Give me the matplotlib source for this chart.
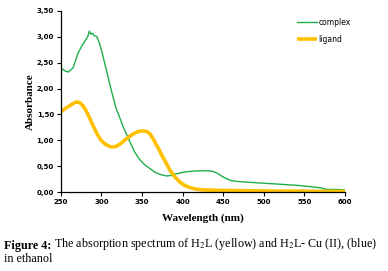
import matplotlib
matplotlib.use("Agg")
import matplotlib.pyplot as plt
from matplotlib.ticker import FixedLocator, FuncFormatter

# complex (green) spectrum
complex_nm = [250, 255, 259, 265, 271, 276, 280, 283, 285, 287, 289, 291, 294, 297,
              300, 306, 312, 318, 321, 327, 335, 341, 347, 353, 360, 366, 372, 380,
              386, 392, 400, 410, 420, 430, 437, 442, 446, 450, 455, 460, 470, 480, 500,
              520, 540, 560, 570, 578, 590, 600]
complex_abs = [2.40, 2.34, 2.32, 2.40, 2.68, 2.83, 2.93, 3.00, 3.11, 3.05, 3.07, 3.02, 3.01, 2.90,
               2.74, 2.36, 1.97, 1.62, 1.50, 1.25, 0.97, 0.77, 0.63, 0.53, 0.45, 0.38, 0.34, 0.31,
               0.32, 0.35, 0.38, 0.40, 0.41, 0.41, 0.40, 0.37, 0.33, 0.29, 0.25, 0.22, 0.20, 0.19, 0.17,
               0.15, 0.13, 0.10, 0.08, 0.05, 0.05, 0.04]

# ligand (yellow) spectrum
ligand_nm = [250, 255, 260, 265, 269, 273, 277, 280, 283, 286, 290, 295, 300, 305, 312, 318,
             324, 330, 335, 340, 345, 351, 356, 360, 364, 367, 371, 375, 380, 384, 390, 396,
             402, 408, 415, 425, 450, 500, 600]
ligand_abs = [1.55, 1.61, 1.66, 1.71, 1.74, 1.73, 1.67, 1.60, 1.51, 1.41, 1.27, 1.11, 0.99, 0.92,
              0.87, 0.88, 0.94, 1.02, 1.08, 1.13, 1.17, 1.18, 1.17, 1.12, 1.02, 0.93, 0.82, 0.69,
              0.55, 0.43, 0.30, 0.20, 0.13, 0.09, 0.06, 0.04, 0.03, 0.02, 0.01]

x_ticks = [250, 300, 350, 400, 450, 500, 550, 600]
y_ticks = [0.0, 0.5, 1.0, 1.5, 2.0, 2.5, 3.0, 3.5]

plt.rcParams["mathtext.fontset"] = "stix"

fig = plt.figure(figsize=(3.88, 2.71), dpi=100)
ax = fig.add_axes([0.157, 0.2915, 0.732, 0.668])

ax.plot(complex_nm, complex_abs, color="#1fae4b", lw=1.0, label="complex")
ax.plot(ligand_nm, ligand_abs, color="#ffc000", lw=2.6, label="ligand",
        solid_capstyle="butt", solid_joinstyle="round")

ax.set_xlim(250, 600)
ax.set_ylim(0, 3.5)
ax.xaxis.set_major_locator(FixedLocator(x_ticks))
ax.yaxis.set_major_locator(FixedLocator(y_ticks))
ax.yaxis.set_major_formatter(FuncFormatter(lambda v, p: f"{v:.2f}".replace(".", ",")))
ax.tick_params(labelsize=5, length=3, width=0.8, pad=2)
for lab in ax.get_xticklabels() + ax.get_yticklabels():
    lab.set_fontweight("bold")

for s in ["top", "right"]:
    ax.spines[s].set_visible(False)
for s in ["left", "bottom"]:
    ax.spines[s].set_linewidth(0.9)

ax.set_xlabel("Wavelength (nm)", family="Liberation Serif", fontweight="bold",
              fontsize=8, labelpad=6)
ax.set_ylabel("Absorbance", family="Liberation Serif", fontweight="bold",
              fontsize=8, labelpad=1)

ax.legend(loc="upper left", bbox_to_anchor=(0.82, 0.98), frameon=False,
          fontsize=5.5, handlelength=2.6, handletextpad=0.2, labelspacing=1.1,
          borderaxespad=0)

t1 = fig.text(0.010, 0.082, "Figure 4:", family="Liberation Serif",
              fontweight="bold", fontsize=8.7, va="baseline")
ax.annotate(" The absorption spectrum of H$_2$L (yellow) and H$_2$L- Cu (II), (blue)",
            xy=(1, 0), xycoords=t1, va="bottom", family="Liberation Serif",
            fontsize=8.7, annotation_clip=False)
fig.text(0.010, 0.034, "in ethanol", family="Liberation Serif", fontsize=8.7,
         va="baseline")

fig.savefig("out.png", dpi=100)
